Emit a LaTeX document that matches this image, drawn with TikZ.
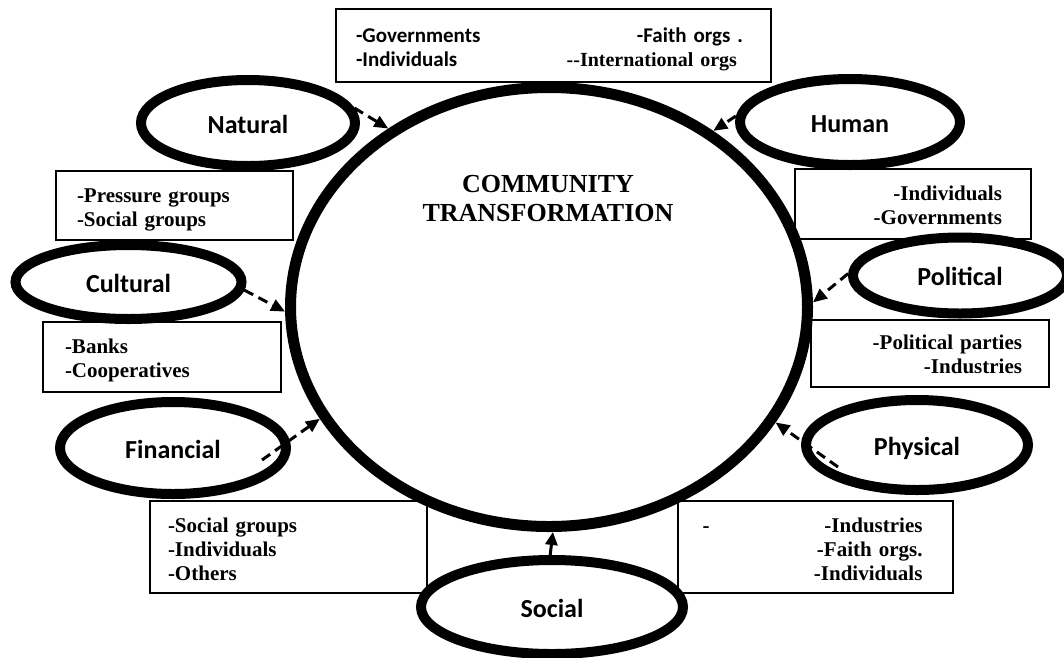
\documentclass[tikz,border=0pt]{standalone}
\usepackage{fontspec}
\setmainfont{Liberation Serif}
\newfontfamily\carlito{Carlito}
\usetikzlibrary{shapes.geometric,arrows.meta}

\begin{document}
\begin{tikzpicture}[x=1pt, y=-1pt,
    capital/.style={ellipse, draw, line width=10pt, fill=white, inner sep=0pt,
        text height=20pt, text depth=0pt,
        font=\carlito\bfseries\fontsize{26}{30}\selectfont},
    actors/.style={rectangle, draw, line width=1.6pt, fill=white, inner sep=0pt,
        text height=0pt, font=\bfseries\fontsize{21}{24}\selectfont},
    flow/.style={dash pattern=on 10pt off 6pt, line width=3pt,
        -{Triangle[length=14pt,width=12pt]}},
    push/.style={line width=3pt, -{Triangle[length=13pt,width=12pt]}}
]
\useasboundingbox (0,0) rectangle (1064,657);

\node (Box01) [actors, minimum width=435pt, minimum height=73pt, text width=395pt,
    align=left, text depth=7pt] at (553.5,45.5)
  {\carlito\fontsize{21}{25}\selectfont -Governments\hfill -Faith orgs .\kern8pt\\
   -Individuals\hfill{\rmfamily\fontsize{20}{25}\selectfont -\kern0pt-International orgs}\kern14pt};
\node (Box02) [actors, minimum width=237pt, minimum height=69pt, text width=195pt,
    align=left, text depth=7pt] at (174.5,205.5) {-Pressure groups\\-Social groups};
\node (Box03) [actors, minimum width=238pt, minimum height=70pt, text width=194pt,
    align=left, text depth=8pt] at (162,357) {-Banks\\-Cooperatives};
\node (Box04) [actors, minimum width=236pt, minimum height=70pt, text width=178pt,
    align=right, text depth=8pt] at (913,204) {-Individuals\\-Governments};
\node (Box05) [actors, minimum width=238pt, minimum height=67pt, text width=184pt,
    align=right, text depth=9pt] at (930,353.5) {-Political parties\\-Industries};
\node (Box06) [actors, minimum width=277pt, minimum height=92pt, text width=241pt,
    align=left, text depth=30pt] at (288.5,547) {-Social groups\\-Individuals\\-Others};
\node (Box07) [actors, minimum width=275pt, minimum height=92pt, text width=226pt,
    align=right, text depth=30pt] at (815.5,547)
  {-\hfill-Industries\kern6pt\\-Faith orgs.\kern6pt\\-Individuals\kern6pt};

\node (Hub) [ellipse, draw, line width=11pt, fill=white, minimum width=517pt,
    minimum height=439pt] at (549,307) {};
\node (Title) [align=center, font=\bfseries\fontsize{26}{29}\selectfont] at (548,199)
  {COMMUNITY\\TRANSFORMATION};

\node (Natural) [capital, minimum width=214pt, minimum height=86pt] at (248,123) {Natural};
\node (Human) [capital, minimum width=220pt, minimum height=86pt] at (850,122) {Human};
\node (Cultural) [capital, minimum width=226pt, minimum height=74pt] at (128.5,282) {Cultural};
\node (Political) [capital, minimum width=214pt, minimum height=76pt] at (960,275.5) {Political};
\node (Financial) [capital, minimum width=226pt, minimum height=92pt] at (173,448) {Financial};
\node (Physical) [capital, minimum width=222pt, minimum height=90pt] at (917,445) {Physical};
\node (Social) [capital, minimum width=262pt, minimum height=94pt] at (552,607) {Social};

\coordinate (FinancialTail) at (262,460);
\coordinate (PhysicalTail) at (838,467);

\draw[flow] (Natural.8) -- (Hub.132);
\draw[flow] (Human.177) -- (Hub.47);
\draw[flow] (Cultural.-4) -- (Hub.181);
\draw[flow] (Political.179) -- (Hub.1);
\draw[flow] (FinancialTail) -- (Hub.206);
\draw[flow] (PhysicalTail) -- (Hub.-27);
\draw[push] (Social.92) -- (Hub.-89);

\end{tikzpicture}
\end{document}
